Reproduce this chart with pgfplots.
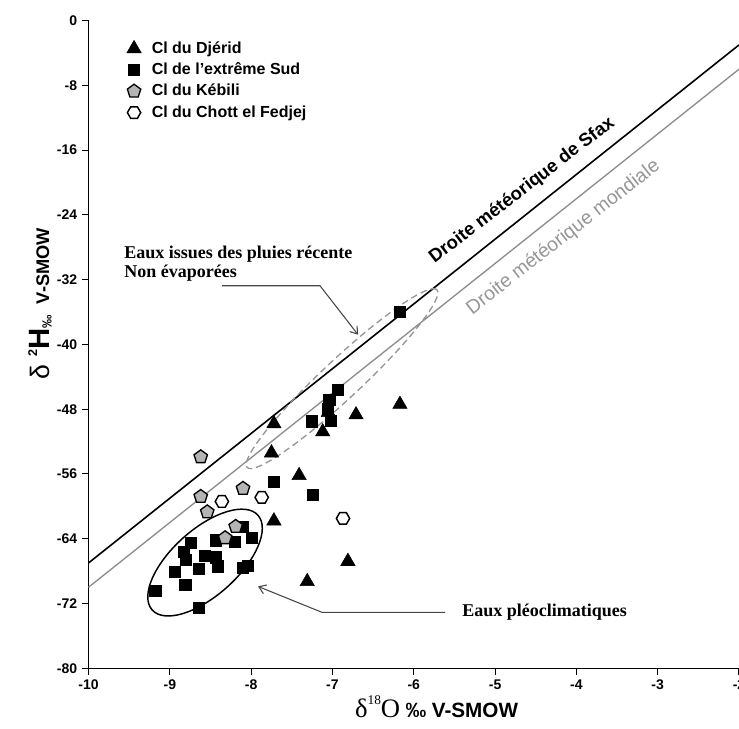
\documentclass[border=0pt]{standalone}
\usepackage{fontspec}
\setmainfont{Liberation Sans}
\newfontfamily\timesfont{Liberation Serif}
\usepackage{pgfplots}
\pgfplotsset{compat=1.18}
\usetikzlibrary{arrows.meta}
\definecolor{gline}{RGB}{140,140,140}
\definecolor{glabel}{RGB}{150,150,150}
\definecolor{dashc}{RGB}{150,150,150}
\definecolor{arrc}{RGB}{70,70,70}
\definecolor{pentfill}{RGB}{180,180,180}
\pgfdeclareplotmark{hexagon}{%
  \pgfpathmoveto{\pgfqpointpolar{0}{\pgfplotmarksize}}%
  \pgfpathlineto{\pgfqpointpolar{60}{\pgfplotmarksize}}%
  \pgfpathlineto{\pgfqpointpolar{120}{\pgfplotmarksize}}%
  \pgfpathlineto{\pgfqpointpolar{180}{\pgfplotmarksize}}%
  \pgfpathlineto{\pgfqpointpolar{240}{\pgfplotmarksize}}%
  \pgfpathlineto{\pgfqpointpolar{300}{\pgfplotmarksize}}%
  \pgfpathclose
  \pgfusepathqfillstroke}
\begin{document}
\begin{tikzpicture}
\begin{axis}[
  name=ax,
  scale only axis,
  width=487.9pt, height=485.7pt,
  xmin=-10, xmax=-2, ymin=-80, ymax=0,
  axis lines*=left,
  axis line style={line width=1pt},
  xtick={-10,-9,...,-2}, ytick={-80,-72,...,0},
  tick align=outside,
  major tick length=5pt,
  tick style={line width=0.8pt, black},
  /pgf/number format/assume math mode=true,
  ticklabel style={font=\bfseries\fontsize{10.5}{12}\selectfont},
  clip=false,
  xlabel={{\timesfont\fontsize{20}{20}\selectfont δ}\raisebox{9.5pt}{\timesfont\fontsize{10}{10}\selectfont 18}{\timesfont\fontsize{20}{20}\selectfont O}\hspace{4pt}{\bfseries\fontsize{15.5}{16}\selectfont ‰ V-SMOW}},
  xlabel style={at={(axis description cs:0.535,-0.0756)}, anchor=base},
  ylabel={{\fontsize{20}{20}\selectfont δ}\hspace{6pt}\raisebox{9pt}{\bfseries\fontsize{9.5}{10}\selectfont 2}{\bfseries\fontsize{22}{22}\selectfont H}\raisebox{-2pt}{\bfseries\fontsize{10}{10}\selectfont ‰}\hspace{8pt}{\bfseries\fontsize{13.7}{14}\selectfont V-SMOW}},
  ylabel style={at={(axis description cs:-0.0607,0.563)}, anchor=base},
  legend image code/.code={\draw[#1] plot coordinates {(0pt,0pt)};},
  legend style={draw=none, fill=none, at={(axis description cs:0.0586,0.9737)}, anchor=north west, inner sep=0pt, font=\bfseries\fontsize{12}{14}\selectfont, row sep=0pt, column sep=5.9pt, nodes={inner sep=2pt, text height=9.4pt, text depth=2.6pt}},
  legend cell align=left,
]
% meteoric lines
\addplot[black, line width=1.2pt, forget plot] coordinates {(-10,-67) (-2,-3)};
\addplot[gline, line width=1pt, forget plot] coordinates {(-10,-70) (-2,-6)};
% ellipses
\draw[line width=1.1pt, black] (axis cs:-8.567,-66.95) ellipse [x radius=53.25pt, y radius=24.75pt, rotate=41.9];
\draw[line width=1pt, dashc, dash pattern=on 5pt off 3pt] (axis cs:-6.882,-44.23) ellipse [x radius=97.5pt, y radius=14.6pt, rotate=43.1];
% data
\addplot[only marks, mark=triangle*, mark size=6.2pt, black] coordinates {
(-7.72,-49.8) (-7.75,-53.4) (-7.41,-56.2) (-7.72,-61.8) (-7.31,-69.3)
(-6.81,-66.8) (-6.71,-48.7) (-7.12,-50.8) (-7.05,-48.4) (-6.17,-47.4)};
\addlegendentry{Cl du Djérid}
\addplot[only marks, mark=square*, mark size=4.2pt, black] coordinates {
(-6.17,-36.0) (-6.93,-45.6) (-7.04,-46.8) (-7.06,-47.9) (-7.25,-49.5)
(-7.02,-49.4) (-7.72,-57.0) (-7.24,-58.6) (-8.10,-62.5) (-7.99,-63.9)
(-8.20,-64.4) (-8.44,-64.2) (-8.74,-64.5) (-8.83,-65.6) (-8.80,-66.6)
(-8.57,-66.1) (-8.44,-66.3) (-8.41,-67.4) (-8.64,-67.7) (-8.94,-68.1)
(-8.81,-69.7) (-8.10,-67.6) (-8.04,-67.3) (-9.18,-70.4) (-8.64,-72.5)};
\addlegendentry{Cl de l'extrême Sud}
\addplot[only marks, mark=pentagon*, mark size=5.3pt, mark options={draw=black, fill=pentfill, line width=1pt}] coordinates {
(-8.62,-53.9) (-8.62,-58.8) (-8.10,-57.8) (-8.54,-60.7) (-8.19,-62.5) (-8.32,-63.9)};
\addlegendentry{Cl du Kébili}
\addplot[only marks, mark=hexagon, mark size=5pt, mark options={draw=black, fill=white, line width=1.1pt}] coordinates {
(-8.36,-59.4) (-7.87,-58.9) (-6.87,-61.5)};
\addlegendentry{Cl du Chott el Fedjej}
% line labels
\node[rotate=37.5, anchor=base, font=\bfseries\fontsize{13.8}{14}\selectfont] at (axis cs:-4.631,-21.46) {Droite météorique de Sfax};
\node[rotate=38, anchor=base, text=glabel, font=\fontsize{14.6}{15}\selectfont] at (axis cs:-4.12,-27.3) {Droite météorique mondiale};
% annotations
\node[anchor=base west, inner sep=0pt, font=\timesfont\bfseries\fontsize{13.5}{14}\selectfont] at (axis cs:-9.563,-29.44) {Eaux issues des pluies récente};
\node[anchor=base west, inner sep=0pt, font=\timesfont\bfseries\fontsize{13.5}{14}\selectfont] at (axis cs:-9.563,-31.77) {Non évaporées};
\draw[arrc, line width=0.8pt, -{Straight Barb[length=5pt,width=7pt]}] (axis cs:-8.358,-32.75) -- (axis cs:-7.153,-32.75) -- (axis cs:-6.685,-38.8);
\node[anchor=base west, inner sep=0pt, font=\timesfont\bfseries\fontsize{13.5}{14}\selectfont] at (axis cs:-5.406,-73.62) {Eaux pléoclimatiques};
\draw[arrc, line width=0.8pt, -{Straight Barb[length=5pt,width=7pt]}] (axis cs:-5.615,-73.1) -- (axis cs:-7.128,-73.1) -- (axis cs:-7.915,-69.9);
\end{axis}
\pgfresetboundingbox
\path[use as bounding box] ([shift={(-66.4pt,-45pt)}]ax.south west) rectangle ([yshift=15.5pt]ax.north east);
\end{tikzpicture}
\end{document}
